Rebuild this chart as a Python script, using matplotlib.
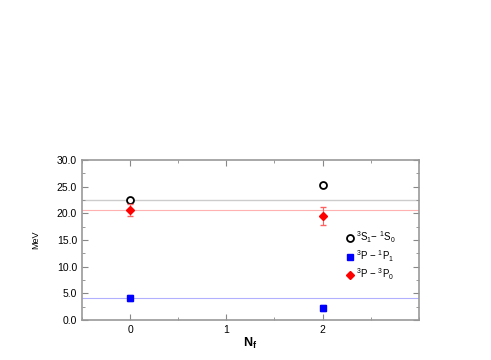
import numpy as np
import matplotlib
matplotlib.use("Agg")
import matplotlib.pyplot as plt
from matplotlib.ticker import MultipleLocator, FormatStrFormatter
from matplotlib.lines import Line2D

plt.rcParams['font.family'] = ['Liberation Sans', 'DejaVu Sans']
plt.rcParams['mathtext.fontset'] = 'custom'
plt.rcParams['mathtext.rm'] = 'Liberation Sans'
plt.rcParams['mathtext.it'] = 'Liberation Sans'
plt.rcParams['mathtext.bf'] = 'Liberation Sans:bold'

nf = [0, 2]
hyperfine = [22.4, 25.2]
p1 = [4.1, 2.2]
p1_err = [0.5, 0.6]
p0 = [20.6, 19.5]
p0_err = [1.2, 1.7]

# reference lines (experiment)
ref_s = 22.4
ref_p1 = 4.1
ref_p0 = 20.6

labels = [r'$^3$S$_1$$-$ $^1$S$_0$', r'$^3$P $-$ $^1$P$_1$', r'$^3$P $-$ $^3$P$_0$']

fig = plt.figure(figsize=(4.91, 3.6), dpi=100)
ax = fig.add_axes([0.167, 0.111, 0.686, 0.445])

ax.axhline(ref_s, color='#cccccc', lw=1.0, zorder=1)
ax.axhline(ref_p0, color='#ffb0b0', lw=0.8, zorder=1)
ax.axhline(ref_p1, color='#b0b0ff', lw=0.8, zorder=1)

ax.plot(nf, hyperfine, 'o', mfc='white', mec='black', mew=1.3, ms=5, zorder=3)
ax.errorbar(nf, p1, yerr=p1_err, fmt='s', color='blue', ecolor='#6060ff', ms=4,
            capsize=2, elinewidth=0.8, zorder=3)
ax.errorbar(nf, p0, yerr=p0_err, fmt='D', color='red', ecolor='#ff6060', ms=4,
            capsize=2, elinewidth=0.8, zorder=3)

ax.set_xlim(-0.5, 3.0)
ax.set_ylim(0, 30)
ax.set_xticks([0, 1, 2])
ax.xaxis.set_minor_locator(MultipleLocator(0.5))
ax.set_yticks(np.arange(0, 31, 5))
ax.yaxis.set_minor_locator(MultipleLocator(2.5))
ax.yaxis.set_major_formatter(FormatStrFormatter('%.1f'))
ax.tick_params(which='both', direction='in', top=True, right=True, labelsize=7.5,
               color='#888888')
ax.tick_params(which='major', length=4)
ax.tick_params(which='minor', length=2)
for s in ax.spines.values():
    s.set_color('#999999')
    s.set_linewidth(1.2)

ax.set_ylabel('MeV', fontsize=6.5, labelpad=12)
ax.set_xlabel(r'$\mathbf{N_f}$', fontsize=9, labelpad=1)

handles = [
    Line2D([], [], ls='', marker='o', mfc='white', mec='black', mew=1.3, ms=5),
    Line2D([], [], ls='', marker='s', color='blue', ms=4),
    Line2D([], [], ls='', marker='D', color='red', ms=4),
]
ax.legend(handles, labels, loc='center left', bbox_to_anchor=(0.77, 0.40),
          frameon=False, fontsize=7, handletextpad=0.1, handlelength=1.0,
          labelspacing=0.3, borderaxespad=0)

fig.savefig('out.png', dpi=100)
